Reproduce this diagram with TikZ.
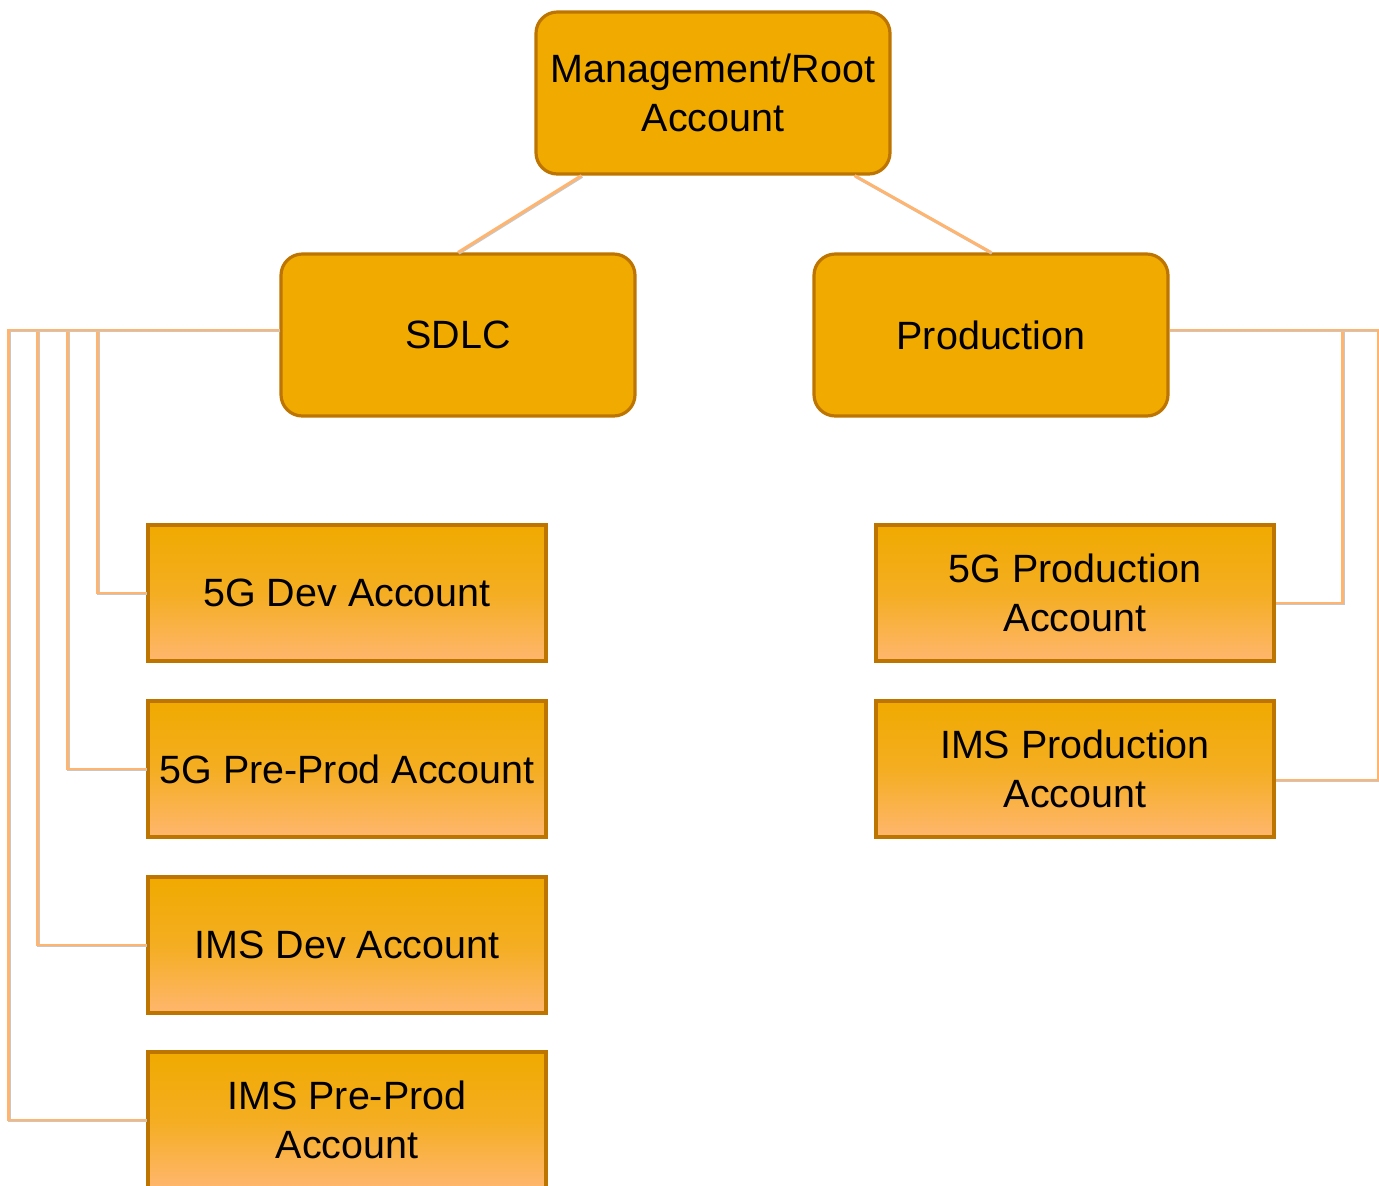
\documentclass[tikz,border=0pt]{standalone}
\usepackage{fontspec}
\setmainfont{Liberation Sans}
\usetikzlibrary{calc}
\definecolor{amberfill}{HTML}{F0AA00}
\definecolor{amberline}{HTML}{BD7500}
\definecolor{amberlight}{HTML}{FFB66E}
\definecolor{linkc}{HTML}{FFB570}
\tikzset{
  txt/.style={font=\fontsize{29.6pt}{37pt}\selectfont, align=center, text=black, inner sep=0pt},
  groupbox/.style={txt, draw=amberline, fill=amberfill, line width=2.4pt,
    rounded corners=16pt, minimum width=265.5pt, minimum height=121.5pt},
  acctbox/.style={txt, draw=amberline, line width=2.4pt,
    top color=amberfill, bottom color=amberlight, middle color=amberfill!70!amberlight,
    minimum width=298.5pt, minimum height=102pt},
  link/.style={draw=linkc, line width=2.2pt,
    preaction={draw=black!22, line width=2.2pt, transform canvas={xshift=0.6pt, yshift=-0.6pt}}},
}
\begin{document}
\begin{tikzpicture}[x=0.75pt, y=-0.75pt]
\useasboundingbox (0,0) rectangle (1379,1186);

% top level and the two groups
\node[groupbox] (root) at (713,93) {Management/Root\\Account};
\node[groupbox] (sdlc) at (458,335) {SDLC};
\node[groupbox] (prod) at (991,335) {Production};

% accounts under SDLC
\node[acctbox] (dev5g)  at (347,593)  {5G Dev Account};
\node[acctbox] (pre5g)  at (347,769)  {5G Pre-Prod Account};
\node[acctbox] (devims) at (347,945)  {IMS Dev Account};
\node[acctbox] (preims) at (347,1120) {IMS Pre-Prod\\Account};

% accounts under Production
\node[acctbox] (prd5g)  at (1075,593) {5G Production\\Account};
\node[acctbox] (prdims) at (1075,769) {IMS Production\\Account};

% root to groups
\draw[link] ($(root.south west)+(47,0)$) -- (sdlc.north);
\draw[link] ($(root.south east)+(-37,0)$) -- (prod.north);

% SDLC to its accounts
\draw[link] ($(sdlc.west)+(0,-5)$) -| ($(dev5g.west)+(-49,0)$) -- (dev5g.west);
\draw[link] ($(sdlc.west)+(0,-5)$) -| ($(pre5g.west)+(-79,0)$) -- (pre5g.west);
\draw[link] ($(sdlc.west)+(0,-5)$) -| ($(devims.west)+(-109,0)$) -- (devims.west);
\draw[link] ($(sdlc.west)+(0,-5)$) -| ($(preims.west)+(-138,0)$) -- (preims.west);

% Production to its accounts
\draw[link] ($(prod.east)+(0,-5)$) -| ($(prd5g.east)+(67,10)$) -- ($(prd5g.east)+(0,10)$);
\draw[link] ($(prod.east)+(0,-5)$) -| ($(prdims.east)+(103,11)$) -- ($(prdims.east)+(0,11)$);
\end{tikzpicture}
\end{document}
